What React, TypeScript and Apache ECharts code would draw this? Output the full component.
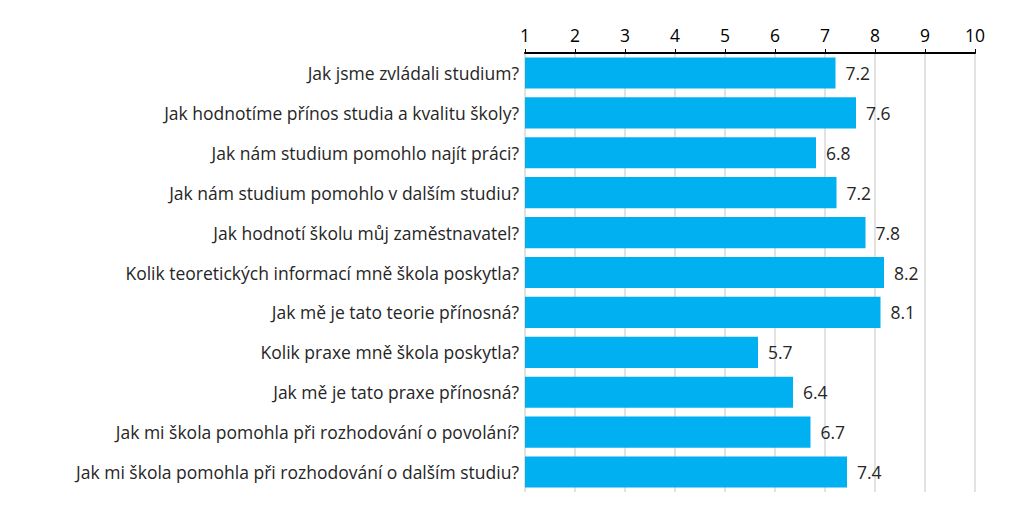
import React, { useEffect, useRef } from "react";
import * as echarts from "echarts";

const categories = [
  "Jak jsme zvládali studium?",
  "Jak hodnotíme přínos studia a kvalitu školy?",
  "Jak nám studium pomohlo najít práci?",
  "Jak nám studium pomohlo v dalším studiu?",
  "Jak hodnotí školu můj zaměstnavatel?",
  "Kolik teoretických informací mně škola poskytla?",
  "Jak mě je tato teorie přínosná?",
  "Kolik praxe mně škola poskytla?",
  "Jak mě je tato praxe přínosná?",
  "Jak mi škola pomohla při rozhodování o povolání?",
  "Jak mi škola pomohla při rozhodování o dalším studiu?",
];
const values = [7.21, 7.62, 6.82, 7.23, 7.81, 8.18, 8.11, 5.66, 6.36, 6.71, 7.44];

export default function App() {
  const ref = useRef<HTMLDivElement>(null);
  useEffect(() => {
    const chart = echarts.init(ref.current!, undefined, { renderer: "svg" });
    chart.setOption({
      animation: false,
      grid: { left: 525, right: 48, top: 53, bottom: 13, containLabel: false },
      xAxis: {
        type: "value",
        position: "top",
        min: 1,
        max: 10,
        interval: 1,
        axisLine: { show: true, lineStyle: { color: "#000", width: 2 } },
        axisTick: { show: true, length: 4, lineStyle: { color: "#000" } },
        axisLabel: { color: "#000", fontSize: 17.5, fontFamily: "Open Sans", margin: 9 },
        splitLine: { show: true, lineStyle: { color: "#d9d9d9", width: 1.5 } },
      },
      yAxis: {
        type: "category",
        data: categories,
        inverse: true,
        axisLine: { show: false },
        axisTick: { show: false },
        axisLabel: { color: "#262626", fontSize: 17.5, fontFamily: "Open Sans", margin: 6 },
        splitLine: { show: false },
      },
      series: [
        {
          type: "bar",
          data: values,
          barWidth: "78%",
          itemStyle: { color: "#00B0F0" },
          label: {
            show: true,
            position: "right",
            distance: 10,
            color: "#262626",
            fontSize: 17.5,
            fontFamily: "Open Sans",
            formatter: (p: any) => Number(p.value).toFixed(1),
          },
        },
      ],
    });
    return () => chart.dispose();
  }, []);
  return <div ref={ref} style={{ width: 1023, height: 505, position: "absolute", left: 0, top: 0 }} />;
}
